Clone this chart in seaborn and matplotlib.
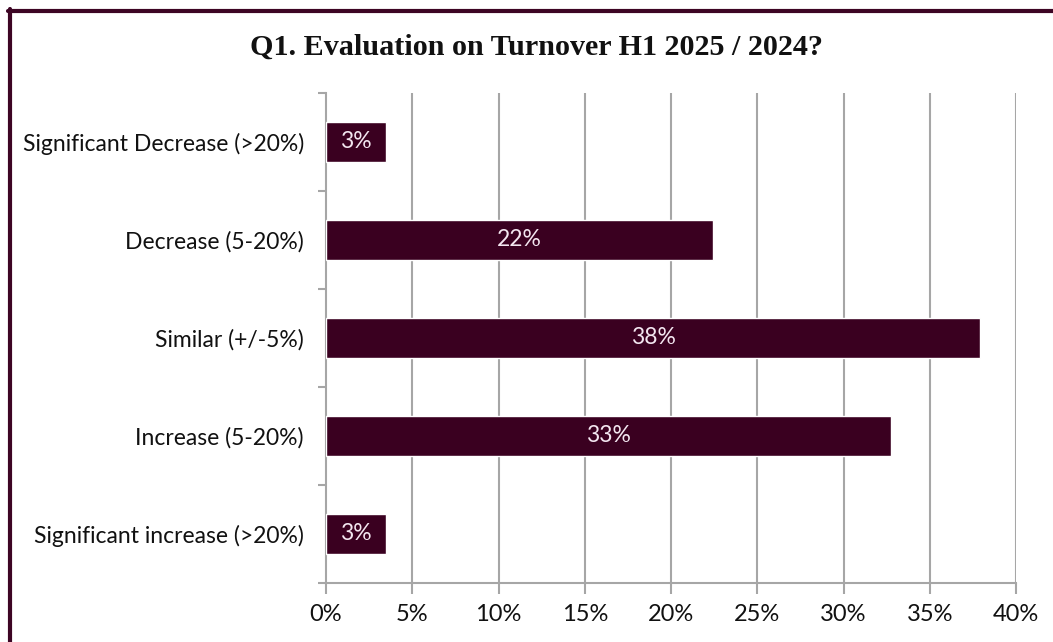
import matplotlib
matplotlib.use("Agg")
import matplotlib.pyplot as plt
from matplotlib.lines import Line2D
from matplotlib.ticker import FixedLocator, FuncFormatter
import numpy as np
import pandas as pd
import seaborn as sns

# Survey answers (share of respondents, %)
categories = [
    "Significant Decrease (>20%)",
    "Decrease (5-20%)",
    "Similar (+/-5%)",
    "Increase (5-20%)",
    "Significant increase (>20%)",
]
shares = [3.45, 22.41, 37.93, 32.76, 3.45]
x_ticks = [0, 5, 10, 15, 20, 25, 30, 35, 40]
title = "Q1. Evaluation on Turnover H1 2025 / 2024?"

BAR = "#3a0020"
GRID = "#a6a6a6"
FRAME = "#3d0524"

sns.set_theme(style="white")
plt.rcParams["font.family"] = ["Lato", "DejaVu Sans"]

df = pd.DataFrame({"answer": categories, "share": shares})

fig = plt.figure(figsize=(10.53, 6.42), dpi=100)
ax = fig.add_axes([326 / 1053, 1 - 583 / 642, (1016 - 326) / 1053, (583 - 93) / 642])

sns.barplot(data=df, x="share", y="answer", orient="h", color=BAR,
            width=0.4, saturation=1, ax=ax, zorder=3)

ax.set_xlim(0, 40)
ax.set_ylim(len(categories) - 0.5, -0.5)
ax.set_xticks(x_ticks)
ax.xaxis.set_major_formatter(FuncFormatter(lambda v, _: f"{v:.0f}%"))
ax.set_xlabel("")
ax.set_ylabel("")

# vertical gridlines
for v in x_ticks[1:]:
    ax.axvline(v, color=GRID, lw=1.5, zorder=1)

for side in ("top", "right"):
    ax.spines[side].set_visible(False)
for side in ("left", "bottom"):
    ax.spines[side].set_color(GRID)
    ax.spines[side].set_linewidth(1.5)

ax.tick_params(axis="x", direction="out", length=8, width=1.5, color=GRID,
               labelsize=17, labelcolor="#111111", pad=7, bottom=True)
ax.tick_params(axis="y", which="major", length=0, labelsize=16.5,
               labelcolor="#111111", pad=16, left=True)
ax.yaxis.set_minor_locator(FixedLocator(np.arange(-0.5, len(categories), 1.0)))
ax.tick_params(axis="y", which="minor", direction="out", length=6, width=1.5,
               color=GRID, left=True)

# value labels inside the bars
for i, v in enumerate(shares):
    ax.text(v / 2, i, f"{v:.0f}%", ha="center", va="center",
            color="#f3e6f0", fontsize=16.5, zorder=4)

fig.text(537 / 1053, 1 - 47 / 642, title, ha="center", va="center",
         family="Liberation Serif", fontweight="bold", fontsize=21.7,
         color="#111111")

# slide frame: left and top rules
fig.add_artist(Line2D([9.5 / 1053, 9.5 / 1053], [0, 1 - 9 / 642],
                      transform=fig.transFigure, color=FRAME, lw=3))
fig.add_artist(Line2D([8 / 1053, 1], [1 - 11 / 642, 1 - 11 / 642],
                      transform=fig.transFigure, color=FRAME, lw=3))

fig.savefig("out.png", dpi=100, facecolor="white")
